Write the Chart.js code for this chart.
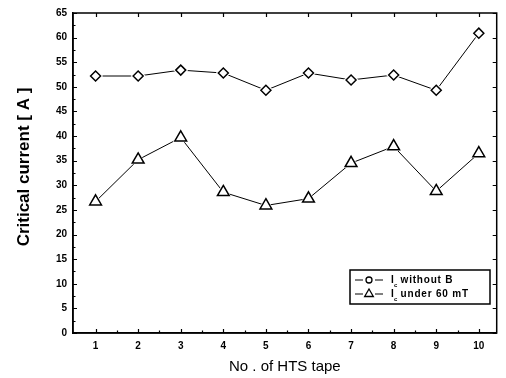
<!DOCTYPE html>
<html>
<head>
<meta charset="utf-8">
<script src="https://cdn.jsdelivr.net/npm/chart.js@4/dist/chart.umd.min.js"></script>
<style>
  html, body { margin: 0; padding: 0; background: #fff; }
  #wrap { width: 506px; height: 378px; }
</style>
</head>
<body>
<div id="wrap"><canvas id="c" width="506" height="378"></canvas></div>
<script>
// tape numbers and critical current readings
const tapeNo = [1, 2, 3, 4, 5, 6, 7, 8, 9, 10];
const icWithoutB = [52.2, 52.2, 53.4, 52.8, 49.3, 52.8, 51.4, 52.4, 49.3, 60.9];
const icUnder60mT = [26.7, 35.2, 39.7, 28.6, 25.9, 27.3, 34.5, 37.9, 28.8, 36.5];
const seriesNames = [' without B', ' under 60 mT'];
const yTickValues = [0, 5, 10, 15, 20, 25, 30, 35, 40, 45, 50, 55, 60, 65];
const xTickValues = [1, 2, 3, 4, 5, 6, 7, 8, 9, 10];
const yTitle = 'Critical current [ A ]';
const xTitle = 'No . of HTS tape';

const FONT = '"Liberation Sans", Arial, sans-serif';
const tickFont = { family: FONT, size: 10, weight: 'bold' };

// frame, inward tick marks, y title and legend, like the original plot
const framePlugin = {
  id: 'frame',
  afterDraw(chart) {
    const { ctx, chartArea: a, scales } = chart;
    const x = scales.x, y = scales.y;
    ctx.save();
    ctx.strokeStyle = '#000';
    ctx.lineWidth = 1.5;
    ctx.strokeRect(a.left, a.top, a.right - a.left, a.bottom - a.top);
    ctx.lineWidth = 1.2;
    ctx.beginPath();
    for (let v = 0; v <= 65; v += 2.5) {
      const py = Math.round(y.getPixelForValue(v)) + 0.5;
      const len = v % 5 === 0 ? 4 : 2.5;
      ctx.moveTo(a.left, py); ctx.lineTo(a.left + len, py);
      if (v % 5 === 0) { ctx.moveTo(a.right, py); ctx.lineTo(a.right - 4, py); }
    }
    for (let v = 1; v <= 10.01; v += 0.5) {
      const px = Math.round(x.getPixelForValue(v)) + 0.5;
      const len = Number.isInteger(v) ? 4 : 2.5;
      ctx.moveTo(px, a.bottom); ctx.lineTo(px, a.bottom - len);
      if (Number.isInteger(v)) { ctx.moveTo(px, a.top); ctx.lineTo(px, a.top + 4); }
    }
    ctx.stroke();

    // rotated y title
    ctx.save();
    ctx.translate(24, 167);
    ctx.rotate(-Math.PI / 2);
    ctx.fillStyle = '#000';
    ctx.font = 'bold 17px ' + FONT;
    ctx.textAlign = 'center';
    ctx.textBaseline = 'middle';
    ctx.fillText(yTitle, 0, 0);
    ctx.restore();

    // legend box inside the plot
    const bx = 350, by = 270, bw = 140, bh = 34;
    ctx.lineWidth = 1.5;
    ctx.strokeRect(bx, by, bw, bh);
    const rows = [
      { yy: by + 10, style: 'circle', r: 3 },
      { yy: by + 24, style: 'triangle', r: 5 }
    ];
    rows.forEach((row, i) => {
      ctx.strokeStyle = '#000';
      ctx.lineWidth = 1;
      ctx.beginPath();
      ctx.moveTo(bx + 5, row.yy); ctx.lineTo(bx + 13, row.yy);
      ctx.moveTo(bx + 25, row.yy); ctx.lineTo(bx + 33, row.yy);
      ctx.stroke();
      ctx.fillStyle = '#fff';
      ctx.lineWidth = 1.3;
      Chart.helpers.drawPoint(ctx, { pointStyle: row.style, radius: row.r, borderWidth: 1.3 }, bx + 19, row.yy);
      ctx.fillStyle = '#000';
      ctx.textBaseline = 'middle';
      ctx.textAlign = 'left';
      ctx.font = 'bold 10px ' + FONT;
      ctx.fillText('I', bx + 41, row.yy);
      ctx.font = 'bold 6px ' + FONT;
      ctx.fillText('c', bx + 44, row.yy + 5);
      ctx.font = 'bold 10px ' + FONT;
      ctx.letterSpacing = '0.8px';
      ctx.fillText(seriesNames[i], bx + 47, row.yy);
      ctx.letterSpacing = '0px';
    });
    ctx.restore();
  }
};

// line-only, white halo and marker layers so the line stops short of each marker
function layers(label, values, style, r) {
  const pts = tapeNo.map((t, i) => ({ x: t, y: values[i] }));
  return [
    { label: label, data: pts, order: 3, borderColor: '#000', borderWidth: 1, pointRadius: 0 },
    { label: label + ' halo', data: pts, order: 2, showLine: false, pointStyle: style, pointRadius: r + 2.5,
      pointBackgroundColor: '#fff', pointBorderColor: '#fff', pointBorderWidth: 0 },
    { label: label + ' marks', data: pts, order: 1, showLine: false, pointStyle: style, pointRadius: r,
      pointBackgroundColor: '#fff', pointBorderColor: '#000', pointBorderWidth: 1.5 }
  ];
}

new Chart(document.getElementById('c').getContext('2d'), {
  type: 'line',
  data: {
    datasets: [
      ...layers('Ic without B', icWithoutB, 'rectRot', 5),
      ...layers('Ic under 60 mT', icUnder60mT, 'triangle', 6.8)
    ]
  },
  options: {
    responsive: false,
    animation: false,
    layout: { padding: { top: 13, right: 2, left: 0, bottom: 0 } },
    plugins: { legend: { display: false }, tooltip: { enabled: false } },
    scales: {
      x: {
        type: 'linear', min: 0.47, max: 10.42,
        afterBuildTicks: (s) => { s.ticks = xTickValues.map(v => ({ value: v })); },
        afterFit: (s) => { s.height = 45; },
        grid: { display: false, drawTicks: false },
        border: { display: true, color: '#000', width: 1.5 },
        ticks: { color: '#000', font: tickFont, padding: 7, maxRotation: 0 },
        title: {
          display: true, text: xTitle, color: '#000',
          font: { family: FONT, size: 15 },
          padding: { top: 0, bottom: 2 }
        }
      },
      y: {
        min: 0, max: 65,
        afterBuildTicks: (s) => { s.ticks = yTickValues.map(v => ({ value: v })); },
        afterFit: (s) => { s.width = 73; },
        grid: { display: false, drawTicks: false },
        border: { display: true, color: '#000', width: 1.5 },
        ticks: { color: '#000', font: tickFont, padding: 6 }
      }
    }
  },
  plugins: [framePlugin]
});
</script>
</body>
</html>
